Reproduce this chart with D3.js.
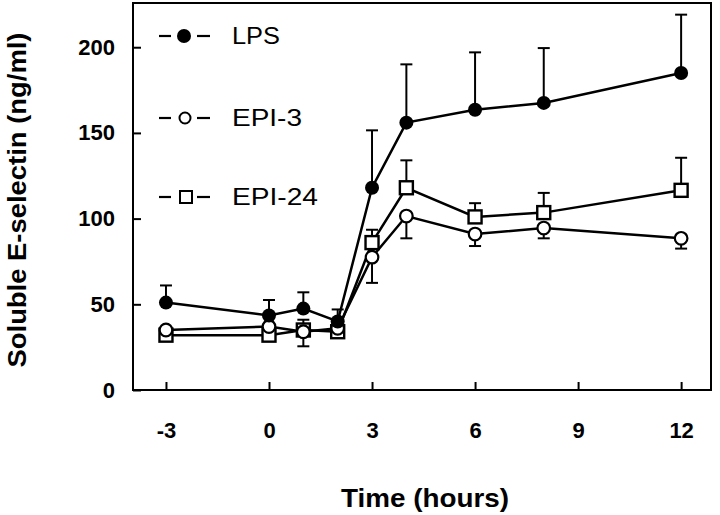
<!DOCTYPE html>
<html><head><meta charset="utf-8">
<script src="https://cdn.jsdelivr.net/npm/d3@7"></script>
<style>body{margin:0;background:#fff}svg{display:block}text{font-family:"Liberation Sans",Arial,sans-serif;font-weight:bold;fill:#000}</style>
</head><body><svg id="c" width="720" height="515"></svg>
<script>
const times = [-3, 0, 1, 2, 3, 4, 6, 8, 12];
const lpsMean = [51, 43.5, 47.5, 40, 118, 156, 163.5, 167.5, 185];
const lpsErr  = [10, 9, 9.5, 7, 33.5, 34, 33.5, 32, 34];
const epi3Mean = [35, 37, 34, 36, 77.5, 101.5, 91, 94.5, 88.5];
const epi3Err  = [2, 3, 8.5, 2, 15, 13, 7, 6, 6];
const epi24Mean = [32, 32, 35, 34, 86, 118, 101, 103.5, 116.5];
const epi24Err  = [2, 3, 6, 2, 7.5, 16, 8, 11.5, 19];
const xTicks = [-3, 0, 3, 6, 9, 12];
const yTicks = [0, 50, 100, 150, 200];
const seriesNames = ["LPS", "EPI-3", "EPI-24"];

const svg = d3.select("#c");
const L = 133, R = 711, T = 3, B = 390;
const x = d3.scaleLinear().domain([-3.96, 12.87]).range([L, R]);
const y = d3.scaleLinear().domain([0, 225.8]).range([B, T]);

svg.append("rect").attr("x", L).attr("y", T).attr("width", R - L).attr("height", B - T)
  .attr("fill", "none").attr("stroke", "#000").attr("stroke-width", 2);

const xAxis = svg.append("g").attr("transform", `translate(0,${B})`)
  .call(d3.axisBottom(x).tickValues(xTicks).tickFormat(d => String(d)).tickSizeInner(-8).tickSizeOuter(0).tickPadding(32));
const yAxis = svg.append("g").attr("transform", `translate(${L},0)`)
  .call(d3.axisLeft(y).tickValues(yTicks).tickFormat(d => String(d)).tickSizeInner(-8).tickSizeOuter(0).tickPadding(18));
[xAxis, yAxis].forEach(g => {
  g.select(".domain").remove();
  g.selectAll("line").attr("stroke", "#000").attr("stroke-width", 2);
  g.selectAll("text").style("font-size", "22px").style("font-family", '"Liberation Sans",Arial,sans-serif').style("font-weight", "bold");
});

svg.append("text").attr("x", 425).attr("y", 507).attr("text-anchor", "middle")
  .attr("textLength", 168).attr("lengthAdjust", "spacingAndGlyphs")
  .style("font-size", "26px").text("Time (hours)");
svg.append("text").attr("transform", "translate(26,200) rotate(-90)").attr("text-anchor", "middle")
  .attr("textLength", 335).attr("lengthAdjust", "spacingAndGlyphs")
  .style("font-size", "25px").text("Soluble E-selectin (ng/ml)");

const series = [
  {name: seriesNames[0], mean: lpsMean, err: lpsErr, dir: 1, shape: "fcircle"},
  {name: seriesNames[1], mean: epi3Mean, err: epi3Err, dir: -1, shape: "ocircle"},
  {name: seriesNames[2], mean: epi24Mean, err: epi24Err, dir: 1, shape: "square"}
];

const line = d3.line().x(d => x(d[0])).y(d => y(d[1]));

function drawMarker(g, shape, cx, cy) {
  if (shape === "fcircle") g.append("circle").attr("cx", cx).attr("cy", cy).attr("r", 7).attr("fill", "#000");
  else if (shape === "ocircle") g.append("circle").attr("cx", cx).attr("cy", cy).attr("r", 6.3).attr("fill", "#fff").attr("stroke", "#000").attr("stroke-width", 2.2);
  else g.append("rect").attr("x", cx - 6.5).attr("y", cy - 6.5).attr("width", 13).attr("height", 13).attr("fill", "#fff").attr("stroke", "#000").attr("stroke-width", 2.4);
}

series.forEach(s => {
  const g = svg.append("g");
  times.forEach((t, i) => {
    const y0 = y(s.mean[i]), y1 = y(s.mean[i] + s.dir * s.err[i]);
    g.append("line").attr("x1", x(t)).attr("x2", x(t)).attr("y1", y0).attr("y2", y1).attr("stroke", "#000").attr("stroke-width", 2);
    g.append("line").attr("x1", x(t) - 6).attr("x2", x(t) + 6).attr("y1", y1).attr("y2", y1).attr("stroke", "#000").attr("stroke-width", 2);
  });
});
series.forEach(s => {
  svg.append("path").datum(times.map((t, i) => [t, s.mean[i]])).attr("d", line)
    .attr("fill", "none").attr("stroke", "#000").attr("stroke-width", 2.5);
});
[series[2], series[1], series[0]].forEach(s => {
  const g = svg.append("g");
  times.forEach((t, i) => drawMarker(g, s.shape, x(t), y(s.mean[i])));
});

const legY = [36, 118, 197];
const legLen = [48, 70, 86];
series.forEach((s, i) => {
  const g = svg.append("g");
  g.append("line").attr("x1", 159).attr("x2", 171).attr("y1", legY[i]).attr("y2", legY[i]).attr("stroke", "#000").attr("stroke-width", 2.2);
  g.append("line").attr("x1", 197).attr("x2", 210).attr("y1", legY[i]).attr("y2", legY[i]).attr("stroke", "#000").attr("stroke-width", 2.2);
  if (s.shape === "fcircle") g.append("circle").attr("cx", 184).attr("cy", legY[i]).attr("r", 7).attr("fill", "#000");
  else if (s.shape === "ocircle") g.append("circle").attr("cx", 185).attr("cy", legY[i]).attr("r", 5.5).attr("fill", "#fff").attr("stroke", "#000").attr("stroke-width", 2);
  else g.append("rect").attr("x", 180).attr("y", legY[i] - 6).attr("width", 12).attr("height", 12).attr("fill", "#fff").attr("stroke", "#000").attr("stroke-width", 2);
  g.append("text").attr("x", 232).attr("y", legY[i] + 8)
    .attr("textLength", legLen[i]).attr("lengthAdjust", "spacingAndGlyphs")
    .style("font-size", "23px").style("font-weight", "normal").text(s.name);
});
</script></body></html>
